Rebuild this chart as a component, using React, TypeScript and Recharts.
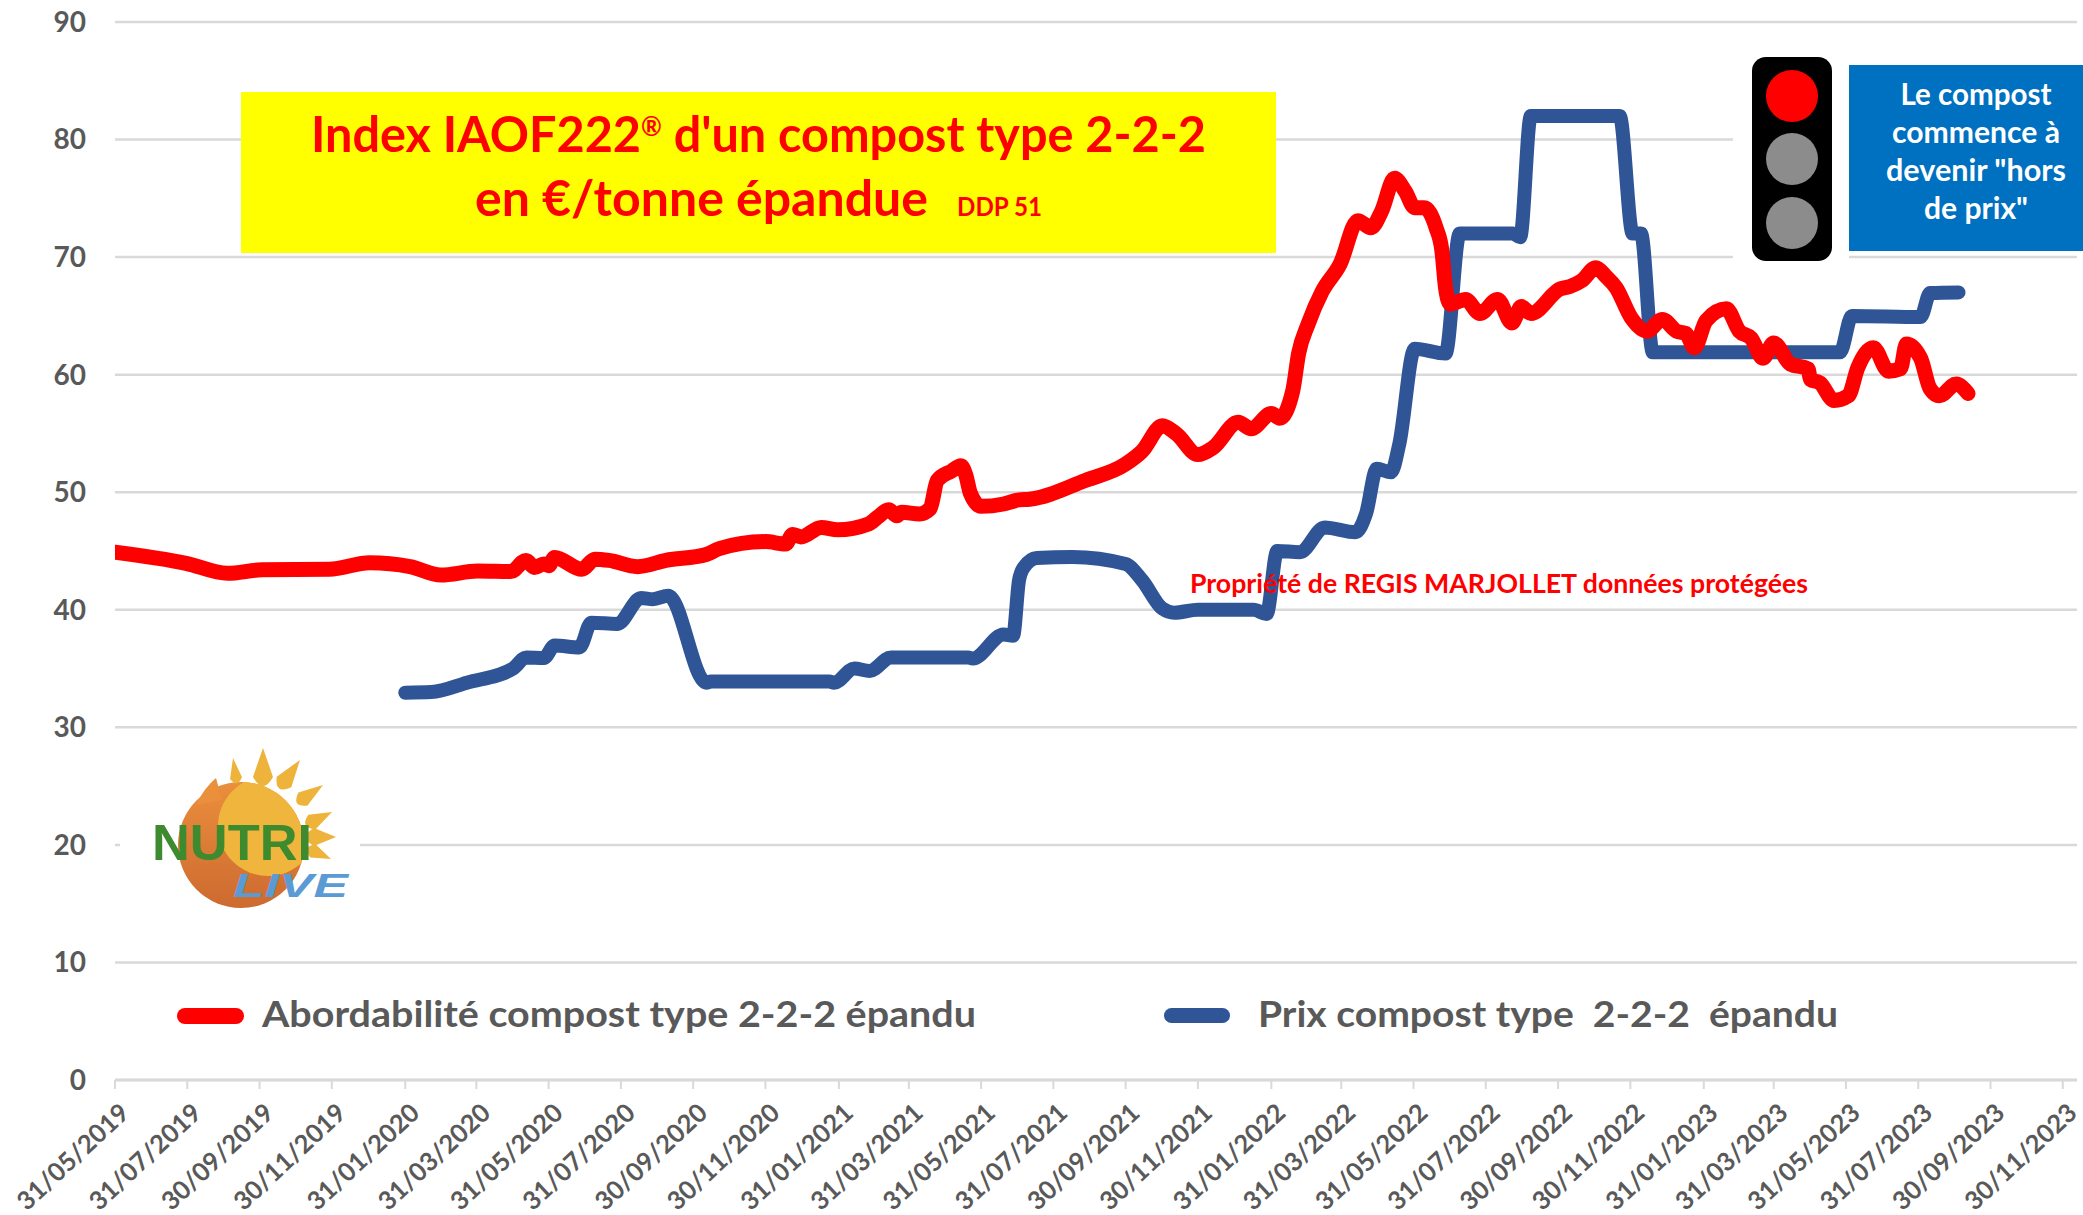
import React from 'react';
import { CartesianGrid, Line, LineChart, XAxis, YAxis } from 'recharts';

const WIDTH = 2083;
const HEIGHT = 1215;
const FONT = 'Lato, sans-serif';
const GREY = '#595959';
const GRID = '#d9d9d9';
const RED = '#ff0000';
const BLUE = '#2f5597';

const tickLabels = [
  '31/05/2019', '31/07/2019', '30/09/2019', '30/11/2019',
  '31/01/2020', '31/03/2020', '31/05/2020', '31/07/2020', '30/09/2020', '30/11/2020',
  '31/01/2021', '31/03/2021', '31/05/2021', '31/07/2021', '30/09/2021', '30/11/2021',
  '31/01/2022', '31/03/2022', '31/05/2022', '31/07/2022', '30/09/2022', '30/11/2022',
  '31/01/2023', '31/03/2023', '31/05/2023', '31/07/2023', '30/09/2023', '30/11/2023',
];
const yTicks = [0, 10, 20, 30, 40, 50, 60, 70, 80, 90];

// days counted from 31/05/2019
const redDays = [
  0, 60, 95, 124, 181, 215, 249, 275, 306, 334, 347, 354, 362, 366, 371, 394, 405, 417, 441, 465,
  499, 510, 549, 566, 572, 579, 596, 610, 636, 644, 653, 660, 664, 679, 688, 694, 706, 714, 718, 722,
  731, 750, 763, 772, 819, 853, 867, 884, 896, 914, 927, 948, 959, 976, 983, 994, 999, 1007, 1019, 1034,
  1049, 1060, 1069, 1080, 1089, 1097, 1105, 1115, 1120, 1123, 1127, 1140, 1152, 1167, 1179, 1187, 1195, 1220, 1228, 1238,
  1250, 1258, 1267, 1280, 1293, 1306, 1318, 1326, 1333, 1343, 1360, 1371, 1381, 1391, 1400, 1414, 1429, 1431, 1439, 1451,
  1463, 1471, 1484, 1497, 1507, 1512, 1524, 1532, 1540, 1554, 1564,
];
const redValues = [
  44.9, 43.95, 43.1, 43.4, 43.45, 44.0, 43.67, 42.95, 43.3, 43.25, 44.2, 43.6, 43.9, 43.75, 44.45, 43.45, 44.3, 44.2, 43.67, 44.2,
  44.7, 45.2, 45.8, 45.6, 46.4, 46.2, 47.0, 46.8, 47.3, 47.9, 48.5, 48.0, 48.3, 48.15, 48.6, 51.0, 51.8, 52.25, 51.5, 49.9,
  48.8, 49.0, 49.35, 49.4, 51.0, 52.4, 53.5, 55.65, 54.95, 53.2, 53.8, 55.95, 55.4, 56.7, 56.3, 58.6, 61.8, 64.3, 67.1, 69.4,
  73.1, 72.5, 73.9, 76.7, 75.6, 74.2, 74.2, 72.5, 70.5, 67.4, 66.0, 66.4, 65.2, 66.4, 64.4, 65.8, 65.2, 67.3, 67.5, 68.0,
  69.1, 68.4, 67.4, 64.8, 63.7, 64.7, 63.7, 63.5, 62.3, 64.6, 65.6, 63.7, 63.1, 61.4, 62.7, 60.9, 60.5, 59.6, 59.3, 57.8,
  58.2, 60.6, 62.3, 60.3, 60.5, 62.6, 61.4, 58.8, 58.2, 59.2, 58.4,
];

const blueDays = [
  245, 267, 297, 336, 347, 362, 371, 392, 402, 424, 444, 454, 467, 499, 503, 603, 607, 624, 637, 655,
  720, 724, 750, 758, 763, 767, 778, 808, 853, 867, 884, 894, 914, 961, 972, 981, 1000, 1021, 1047, 1056,
  1065, 1077, 1084, 1097, 1123, 1135, 1180, 1186, 1195, 1270, 1281, 1288, 1298, 1456, 1466, 1524, 1532, 1556,
];
const blueValues = [
  32.95, 33.0, 33.8, 35.0, 35.95, 35.9, 36.96, 36.8, 38.9, 38.8, 41.0, 40.9, 41.2, 33.8, 33.9, 33.9, 33.8, 35.0, 34.8, 35.95,
  35.95, 35.85, 37.9, 37.8, 42.5, 43.6, 44.4, 44.5, 43.9, 42.5, 40.1, 39.75, 40.0, 40.0, 39.65, 45.0, 44.9, 47.0, 46.6, 48.2,
  52.0, 51.7, 54.1, 62.2, 61.8, 72.0, 72.0, 71.7, 82.0, 82.0, 72.0, 72.0, 61.9, 61.9, 65.0, 64.9, 66.95, 67.0,
];

const legendRed = 'Abordabilité compost type 2-2-2 épandu';
const legendBlue = 'Prix compost type  2-2-2  épandu';
const noteLines = ['Le compost', 'commence à', 'devenir "hors', 'de prix"'];

const dayOf = (label: string) => {
  const [d, m, y] = label.split('/').map(Number);
  return Math.round((Date.UTC(y, m - 1, d) - Date.UTC(2019, 4, 31)) / 86400000);
};
const xTicks = tickLabels.map(dayOf);
const labelByDay = new Map(xTicks.map((day, i) => [day, tickLabels[i]]));

const redData = redDays.map((day, i) => ({ day, value: redValues[i] }));
const blueData = blueDays.map((day, i) => ({ day, value: blueValues[i] }));

const DateTick = ({ x, payload }: any) => (
  <text
    transform={`translate(${x + 9}, 1107.5) rotate(-43)`}
    textAnchor="end"
    dominantBaseline="central"
    fontFamily={FONT}
    fontSize={25.5}
    fontWeight={700}
    fill={GREY}
  >
    {labelByDay.get(payload.value)}
  </text>
);

// text stretched to the width measured on the picture
const Fitted = ({ x, y, w, size, fill, anchor = 'start', children }: any) => (
  <text
    x={x}
    y={y}
    fontFamily={FONT}
    fontWeight={700}
    fontSize={size}
    fill={fill}
    textAnchor={anchor}
    textLength={w}
    lengthAdjust="spacingAndGlyphs"
    style={{ whiteSpace: 'pre' }}
  >
    {children}
  </text>
);

// logo sun rays: tip x, tip y, base x, base y, half width
const sunRays = [
  [233, 758, 236, 778, 6],
  [263, 748, 263, 777, 10],
  [300, 760, 284, 782, 9],
  [323, 785, 303, 799, 8],
  [332, 812, 312, 822, 8],
  [336, 837, 314, 837, 9],
  [331, 859, 313, 851, 7],
];

const rayPath = ([tx, ty, bx, by, hw]: number[]) => {
  const len = Math.hypot(bx - tx, by - ty);
  const dx = (bx - tx) / len;
  const dy = (by - ty) / len;
  const px = -dy * hw;
  const py = dx * hw;
  return `M${tx} ${ty} L${bx + px} ${by + py} Q${bx + dx * hw * 1.8} ${by + dy * hw * 1.8} ${bx - px} ${by - py} Z`;
};

const Logo = () => (
  <g>
    <rect x={120} y={750} width={240} height={170} fill="#fff" />
    <defs>
      <linearGradient id="sunBody" x1="0" y1="0" x2="0" y2="1">
        <stop offset="0%" stopColor="#ea8f3c" />
        <stop offset="100%" stopColor="#cd6a30" />
      </linearGradient>
      <clipPath id="sunClip">
        <circle cx={241} cy={845} r={63} />
      </clipPath>
    </defs>
    <circle cx={241} cy={845} r={63} fill="url(#sunBody)" />
    <circle cx={268} cy={826} r={50} fill="#efb53c" clipPath="url(#sunClip)" />
    <path d="M216 778 L222 800 L196 805 Q204 788 216 778 Z" fill="#ea8f3c" />
    {sunRays.map((ray) => (
      <path key={ray[1]} d={rayPath(ray)} fill="#edb33b" />
    ))}
    <text
      x={152}
      y={860}
      fontFamily="'Liberation Sans', sans-serif"
      fontWeight={700}
      fontSize={50}
      fill="#3e8a2e"
      textLength={160}
      lengthAdjust="spacingAndGlyphs"
    >
      NUTRI
    </text>
    <text
      x={233}
      y={897}
      fontFamily="'Liberation Sans', sans-serif"
      fontWeight={700}
      fontStyle="italic"
      fontSize={34}
      fill="#5b9bd5"
      textLength={115}
      lengthAdjust="spacingAndGlyphs"
    >
      LIVE
    </text>
  </g>
);

const Overlay = () => (
  <svg width={WIDTH} height={HEIGHT} style={{ position: 'absolute', left: 0, top: 0, pointerEvents: 'none' }}>
    {/* title */}
    <rect x={241} y={92} width={1035} height={161} fill="#ffff00" />
    <Fitted x={311} y={152} w={895} size={50} fill={RED}>
      Index IAOF222
      <tspan dy={-16} fontSize={26}>®</tspan>
      <tspan dy={16}> d'un compost type 2-2-2</tspan>
    </Fitted>
    <Fitted x={475} y={216} w={453} size={50} fill={RED}>en €/tonne épandue</Fitted>
    <Fitted x={957} y={216} w={85} size={26} fill={RED}>DDP 51</Fitted>

    {/* traffic light */}
    <rect x={1733} y={50} width={116} height={220} fill="#fff" />
    <rect x={1752} y={57} width={80} height={204} rx={14} fill="#000" />
    <circle cx={1792} cy={96} r={26} fill="#ff0000" />
    <circle cx={1792} cy={159} r={26} fill="#8c8c8c" />
    <circle cx={1792} cy={223} r={26} fill="#8c8c8c" />

    {/* blue note */}
    <rect x={1849} y={65} width={234} height={186} fill="#0070c0" />
    <Fitted x={1976} y={105} w={151} size={30} fill="#fff" anchor="middle">{noteLines[0]}</Fitted>
    <Fitted x={1976} y={143} w={168} size={30} fill="#fff" anchor="middle">{noteLines[1]}</Fitted>
    <Fitted x={1976} y={181} w={180} size={30} fill="#fff" anchor="middle">{noteLines[2]}</Fitted>
    <Fitted x={1976} y={219} w={104} size={30} fill="#fff" anchor="middle">{noteLines[3]}</Fitted>

    <Fitted x={1190} y={593} w={618} size={27} fill={RED}>Propriété de REGIS MARJOLLET données protégées</Fitted>

    <Logo />

    {/* legend */}
    <rect x={177} y={1008} width={67} height={16} rx={8} fill={RED} />
    <Fitted x={262} y={1027} w={714} size={37} fill={GREY}>{legendRed}</Fitted>
    <rect x={1164} y={1008} width={66} height={15} rx={7.5} fill={BLUE} />
    <Fitted x={1258} y={1027} w={580} size={37} fill={GREY}>{legendBlue}</Fitted>
  </svg>
);

export default function App() {
  return (
    <div style={{ position: 'absolute', left: 0, top: 0, width: WIDTH, height: HEIGHT, background: '#fff', overflow: 'hidden' }}>
      <LineChart width={WIDTH} height={HEIGHT} margin={{ top: 22, right: 6, bottom: 15, left: 0 }}>
        <CartesianGrid vertical={false} stroke={GRID} strokeWidth={2.5} />
        <XAxis
          type="number"
          dataKey="day"
          domain={[0, 1656]}
          allowDataOverflow
          ticks={xTicks}
          interval={0}
          height={120}
          tick={<DateTick />}
          tickLine={{ stroke: GRID, strokeWidth: 2 }}
          tickSize={9}
          axisLine={{ stroke: GRID, strokeWidth: 3 }}
        />
        <YAxis
          type="number"
          domain={[0, 90]}
          ticks={yTicks}
          interval={0}
          width={115}
          tickLine={false}
          axisLine={false}
          tickSize={0}
          tickMargin={29}
          tick={{ fontFamily: FONT, fontSize: 28, fontWeight: 700, fill: GREY }}
        />
        <Line
          data={blueData}
          dataKey="value"
          type="monotone"
          stroke={BLUE}
          strokeWidth={14}
          strokeLinecap="round"
          strokeLinejoin="round"
          dot={false}
          isAnimationActive={false}
        />
        <Line
          data={redData}
          dataKey="value"
          type="monotone"
          stroke={RED}
          strokeWidth={15}
          strokeLinecap="round"
          strokeLinejoin="round"
          dot={false}
          isAnimationActive={false}
        />
      </LineChart>
      <Overlay />
    </div>
  );
}
